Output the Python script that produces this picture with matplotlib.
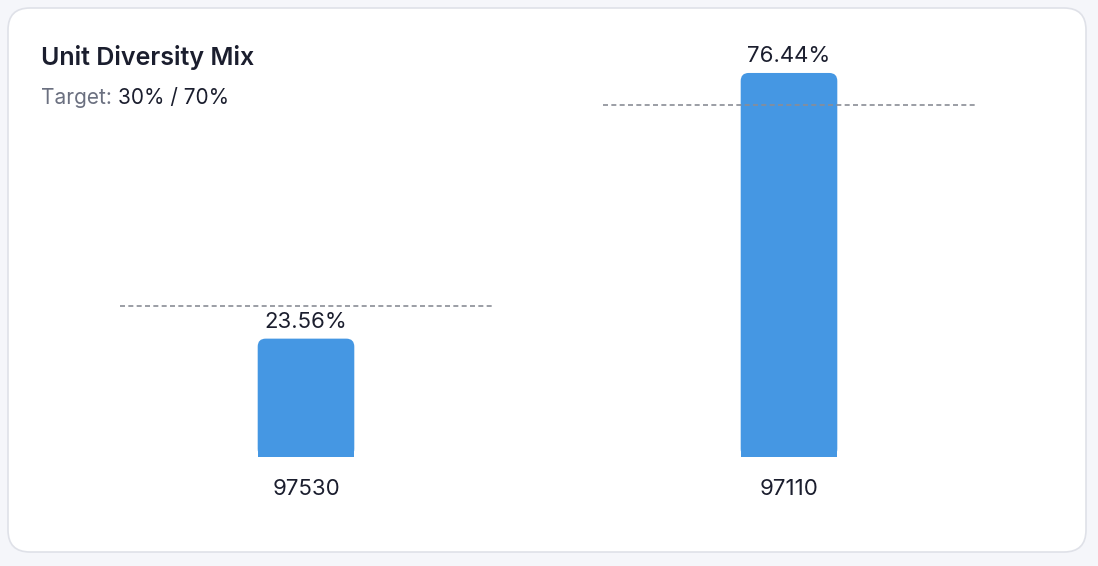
import matplotlib.pyplot as plt
from matplotlib.patches import FancyBboxPatch, Rectangle

categories = ["97530", "97110"]
shares = [23.56, 76.44]
targets = [30, 70]

W, H = 1098, 566
BAR = "#4597e3"
DARK = "#1b1e2e"
GRAY = "#6b7080"

plt.rcParams["font.family"] = ["Inter", "DejaVu Sans"]
fig = plt.figure(figsize=(W / 100, H / 100), dpi=100)
fig.patch.set_facecolor("#f5f6fa")


def fx(px):
    return px / W


def fy(py):
    return 1 - py / H


# card (behind the axes)
card = FancyBboxPatch((fx(8), fy(552)), fx(1078), (544) / H,
                      boxstyle="round,pad=0,rounding_size=0.02",
                      mutation_aspect=W / H,
                      transform=fig.transFigure, facecolor="white",
                      edgecolor="#dfe1e8", linewidth=1.2, zorder=-5)
fig.patches.append(card)

# axes: category 0 at px 306, 1 at px 789; y=0 at px 457, 5.024 px per %
unit = 483
ymax = 80
ppp = 5.024
left = 306 - 0.5 * unit
ax = fig.add_axes([fx(left), fy(457), 2 * unit / W, ymax * ppp / H])
ax.set_zorder(2)
ax.set_xlim(-0.5, 1.5)
ax.set_ylim(0, ymax)
ax.axis("off")

bw = 0.2
r = 8 / unit
asp = unit / ppp
for i, (v, t) in enumerate(zip(shares, targets)):
    ax.add_patch(FancyBboxPatch((i - bw / 2, 0), bw, v,
                                boxstyle=f"round,pad=0,rounding_size={r}",
                                mutation_aspect=asp, facecolor=BAR,
                                edgecolor="none"))
    ax.add_patch(Rectangle((i - bw / 2, 0), bw, v / 2, facecolor=BAR,
                           edgecolor="none"))
    ax.plot([i - 0.385, i + 0.385], [t, t], ls=(0, (3, 2)), color="#8a8d96",
            lw=1.2, zorder=3)
    ax.text(i, v + 7 / ppp, f"{v:.2f}%", ha="center", va="bottom",
            fontsize=16, color=DARK, clip_on=False)
    ax.text(i, -22 / ppp, categories[i], ha="center", va="top",
            fontsize=16, color=DARK, clip_on=False)

fig.text(fx(41), fy(57), "Unit Diversity Mix", fontsize=18, fontweight="semibold",
         color=DARK, va="center")
t1 = fig.text(fx(41), fy(98), "Target: ", fontsize=15, color=GRAY, va="center")
fig.canvas.draw()
bb = t1.get_window_extent()
fig.text(bb.x1 / W, fy(98), "30% / 70%", fontsize=15, color=DARK, va="center")

fig.savefig("out.png", dpi=100)
